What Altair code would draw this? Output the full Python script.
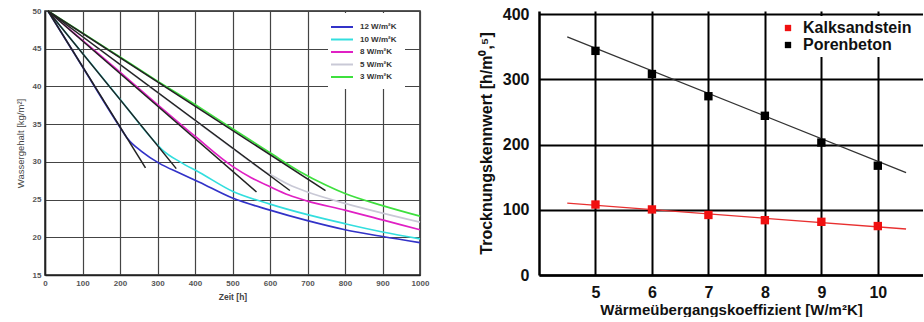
import altair as alt
import pandas as pd

FONT = "Liberation Sans"

# ---------------- left chart data: Wassergehalt over Zeit ----------------
series_names = ["12 W/m²K", "10 W/m²K", "8 W/m²K", "5 W/m²K", "3 W/m²K"]
series_colors = ["#3232c8", "#33dede", "#e020c4", "#c9c9d6", "#3ee03e"]

t_12 = [8, 100, 200, 220, 260, 305, 360, 412, 500, 600, 700, 800, 900, 1000]
w_12 = [50, 42.6, 34.6, 33.1, 31.3, 29.8, 28.5, 27.3, 25.2, 23.6, 22.2, 21.0, 20.1, 19.3]

t_10 = [8, 100, 200, 290, 315, 360, 412, 500, 600, 700, 800, 900, 1000]
w_10 = [50, 44.4, 38.3, 32.8, 31.5, 30.0, 28.6, 26.1, 24.4, 23.0, 21.8, 20.7, 19.8]

t_8 = [8, 100, 200, 300, 400, 500, 550, 600, 650, 700, 800, 900, 1000]
w_8 = [50, 46.1, 41.9, 37.6, 33.4, 29.4, 27.9, 26.7, 25.6, 24.8, 23.6, 22.3, 21.0]

t_5 = [8, 100, 200, 300, 400, 500, 580, 620, 650, 700, 800, 900, 1000]
w_5 = [50, 46.6, 42.9, 39.2, 35.5, 31.8, 28.9, 27.8, 27.0, 26.0, 24.5, 23.2, 22.0]

t_3 = [8, 100, 200, 300, 400, 500, 600, 680, 750, 800, 900, 1000]
w_3 = [50, 47.1, 43.9, 40.7, 37.6, 34.4, 31.2, 28.7, 26.9, 25.8, 24.2, 22.8]

# black tangent lines: common start, individual end points
tangent_start_t = 8
tangent_start_w = 50
tangent_end_t = [268, 350, 564, 653, 748]
tangent_end_w = [29.2, 29.1, 26.0, 26.2, 26.2]

x_ticks_left = [0, 100, 200, 300, 400, 500, 600, 700, 800, 900, 1000]
y_ticks_left = [15, 20, 25, 30, 35, 40, 45, 50]

# ---------------- right chart data: Trocknungskennwert ----------------
koeff = [5, 6, 7, 8, 9, 10]
kalksandstein = [108, 100.5, 92, 84, 81.5, 75]
porenbeton = [343.5, 308, 274, 244, 203, 167.5]
trend_x = [4.5, 10.5]
kalk_trend = [110, 70.5]
poren_trend = [365, 157]
material_names = ["Kalksandstein", "Porenbeton"]
material_colors = ["#f01010", "#000000"]
y_ticks_right = [0, 100, 200, 300, 400]

# ---------------- build tables ----------------
rows = []
for name, ts, ws in zip(series_names, [t_12, t_10, t_8, t_5, t_3], [w_12, w_10, w_8, w_5, w_3]):
    for t, w in zip(ts, ws):
        rows.append({"series": name, "t": t, "w": w})
curves = pd.DataFrame(rows)

trows = []
for name, te, we in zip(series_names, tangent_end_t, tangent_end_w):
    trows.append({"series": name, "t": tangent_start_t, "w": tangent_start_w})
    trows.append({"series": name, "t": te, "w": we})
tangents = pd.DataFrame(trows)

pts = pd.DataFrame(
    [{"material": "Kalksandstein", "k": k, "v": v} for k, v in zip(koeff, kalksandstein)]
    + [{"material": "Porenbeton", "k": k, "v": v} for k, v in zip(koeff, porenbeton)]
)
trend = pd.DataFrame(
    [{"material": "Kalksandstein", "k": k, "v": v} for k, v in zip(trend_x, kalk_trend)]
    + [{"material": "Porenbeton", "k": k, "v": v} for k, v in zip(trend_x, poren_trend)]
)

# ---------------- left chart ----------------
lx = alt.X(
    "t:Q",
    scale=alt.Scale(domain=[0, 1000], nice=False, zero=False),
    axis=alt.Axis(
        values=x_ticks_left, format="d", labelOverlap=False, title="Zeit [h]", ticks=False, labelPadding=4,
        labelFontSize=8, labelFontWeight="bold", labelColor="#555",
        titleFontSize=8.5, titleFontWeight="bold", titleColor="#444", titlePadding=5,
        gridColor="#444", gridWidth=1.2, domainColor="#222", domainWidth=1.5,
        labelFlush=False,
    ),
)
ly = alt.Y(
    "w:Q",
    scale=alt.Scale(domain=[15, 50], nice=False, zero=False),
    axis=alt.Axis(
        values=y_ticks_left, format="d", labelOverlap=False, title="Wassergehalt [kg/m²]", ticks=False, labelPadding=4,
        labelFontSize=8, labelFontWeight="bold", labelColor="#555",
        titleFontSize=9.5, titleFontWeight="normal", titleColor="#444", titlePadding=7,
        gridColor="#444", gridWidth=1.2, domainColor="#222", domainWidth=1.5,
        labelFlush=False,
    ),
)

curve_layer = alt.Chart(curves).mark_line(strokeWidth=1.7, interpolate="monotone").encode(
    x=lx,
    y=ly,
    color=alt.Color(
        "series:N",
        scale=alt.Scale(domain=series_names, range=series_colors),
        legend=alt.Legend(
            title=None, orient="none", legendX=283, legendY=2,
            fillColor="white", padding=8, rowPadding=2.5,
            symbolType="M-2.2,0H2.2", symbolSize=100, symbolStrokeWidth=2,
            labelFontSize=8, labelFontWeight="bold", labelColor="#333", labelOffset=12,
        ),
    ),
)
tangent_layer = alt.Chart(tangents).mark_line(strokeWidth=1.5, color="#222").encode(
    x=lx, y=ly, detail="series:N"
)
left = alt.layer(curve_layer, tangent_layer).properties(
    width=375, height=264,
    view=alt.ViewBackground(stroke="#222", strokeWidth=1.5),
)

# ---------------- right chart ----------------
rx = alt.X(
    "k:Q",
    scale=alt.Scale(domain=[4, 10.8], nice=False, zero=False),
    axis=alt.Axis(
        values=koeff, format="d", labelOverlap=False, title="Wärmeübergangskoeffizient [W/m²K]", ticks=False, labelPadding=9,
        labelFontSize=16, labelFontWeight="bold", labelColor="#111",
        titleFontSize=15, titleFontWeight="bold", titleColor="#111", titlePadding=2,
        gridColor="#000", gridWidth=2, domainColor="#000", domainWidth=2.5,
        labelFlush=False,
    ),
)
ry = alt.Y(
    "v:Q",
    scale=alt.Scale(domain=[0, 404.6], nice=False, zero=True),
    axis=alt.Axis(
        values=y_ticks_right, format="d", labelOverlap=False, title="Trocknungskennwert  [h/m⁰,⁵]", ticks=False, labelPadding=10,
        labelFontSize=16, labelFontWeight="bold", labelColor="#111",
        titleFontSize=16, titleFontWeight="bold", titleColor="#111", titlePadding=8,
        gridColor="#000", gridWidth=2, domainColor="#000", domainWidth=2.5,
        labelFlush=False,
    ),
)

trend_kalk = alt.Chart(trend).transform_filter(alt.datum.material == "Kalksandstein").mark_line(
    strokeWidth=1.3, color="#e83030"
).encode(x=rx, y=ry)
trend_poren = alt.Chart(trend).transform_filter(alt.datum.material == "Porenbeton").mark_line(
    strokeWidth=1.3, color="#333333"
).encode(x=rx, y=ry)
squares = alt.Chart(pts).mark_square(size=70, opacity=1, filled=True).encode(
    x=rx,
    y=ry,
    color=alt.Color(
        "material:N",
        scale=alt.Scale(domain=material_names, range=material_colors),
        legend=alt.Legend(
            title=None, orient="none", legendX=237, legendY=5,
            fillColor="white", padding=4, rowPadding=1,
            symbolType="square", symbolSize=40, symbolOpacity=1,
            labelFontSize=16, labelFontWeight="bold", labelColor="#111", labelOffset=7,
        ),
    ),
)
right = alt.layer(trend_kalk, trend_poren, squares).properties(
    width=384, height=264,
    view=alt.ViewBackground(stroke=None),
)

chart = alt.hconcat(left, right, spacing=119, bounds="flush").resolve_scale(
    color="independent"
).properties(
    padding={"left": 14, "top": 6, "right": 0, "bottom": 0},
    background="white",
).configure(font=FONT)

chart.save("out.html", embed_options={"renderer": "svg", "actions": False})
